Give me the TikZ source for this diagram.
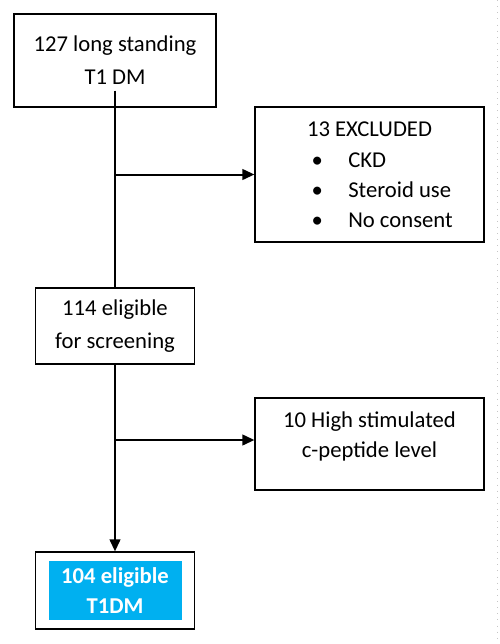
\documentclass[tikz,border=0pt]{standalone}
\usepackage{fontspec}
\setmainfont{Carlito}
\usetikzlibrary{positioning,arrows.meta}
\definecolor{flowcyan}{HTML}{00B0F0}
\tikzset{on grid, semithick,
box/.style ={draw, line width=0.9pt, align=center, font=\fontsize{17}{22.5}\selectfont},
tall/.style ={font=\fontsize{17}{24.75}\selectfont},
flow/.style ={line width=1.5pt},
arr/.style ={flow, -{Triangle[length=9pt,width=8pt]}}}

\begin{document}
\begin{tikzpicture}
\useasboundingbox (0,0) rectangle (375pt,-483pt);
\node[box, tall, minimum width=151.5pt, minimum height=69.75pt] (start) at (86.25pt,-45.375pt) {127 long standing\\T1 DM};
\node[box, minimum width=171.75pt, minimum height=101.25pt] (excl) [below right=85.5pt and 190.875pt of start] {};
\node[font=\fontsize{17}{22.5}\selectfont] (exclhead) at ([yshift=-17.25pt]excl.north) {13 EXCLUDED};
\node[font=\fontsize{17}{22.5}\selectfont, inner sep=0pt, anchor=west] (excllist) at ([xshift=42.75pt,yshift=-12.4pt]excl.west)
  {\begin{tabular}{@{}c@{\hspace{19pt}}l@{}}
   \textbullet & CKD\\
   \textbullet & Steroid use\\
   \textbullet & No consent
   \end{tabular}};
\node[box, tall, minimum width=119.25pt, minimum height=57pt] (elig) [below=199.125pt of start] {114 eligible\\for screening};
\node[box, minimum width=171.75pt, minimum height=69pt] (high) [below=202.125pt of excl] {};
\node[align=center, font=\fontsize{17}{22.5}\selectfont] (hightext) at ([yshift=6pt]high) {10 High stimulated\\c-peptide level};
\node[box, minimum width=119.25pt, minimum height=57.75pt] (final) [below=198.375pt of elig] {};
\node[align=center, fill=flowcyan, text=white, font=\fontsize{17}{22.5}\selectfont\bfseries,
  minimum width=99.75pt, minimum height=44.25pt] (finalin) at (final) {104 eligible\\T1DM};
\coordinate (top) at ([yshift=12.75pt]start.south);
% trunk and branches
\draw[flow] (top) -- (elig.north);
\draw[arr] (top |- excl.west) -- (excl.west);
\draw[arr] (elig.south) -- (final.north);
\draw[arr] ([yshift=3pt]elig.south |- high.west) -- ([yshift=3pt]high.west);
% page edge
\draw[gray!45, line width=0.6pt, dash pattern=on 0.6pt off 4pt] (373pt,0pt) -- (373pt,-483pt);
\end{tikzpicture}
\end{document}
